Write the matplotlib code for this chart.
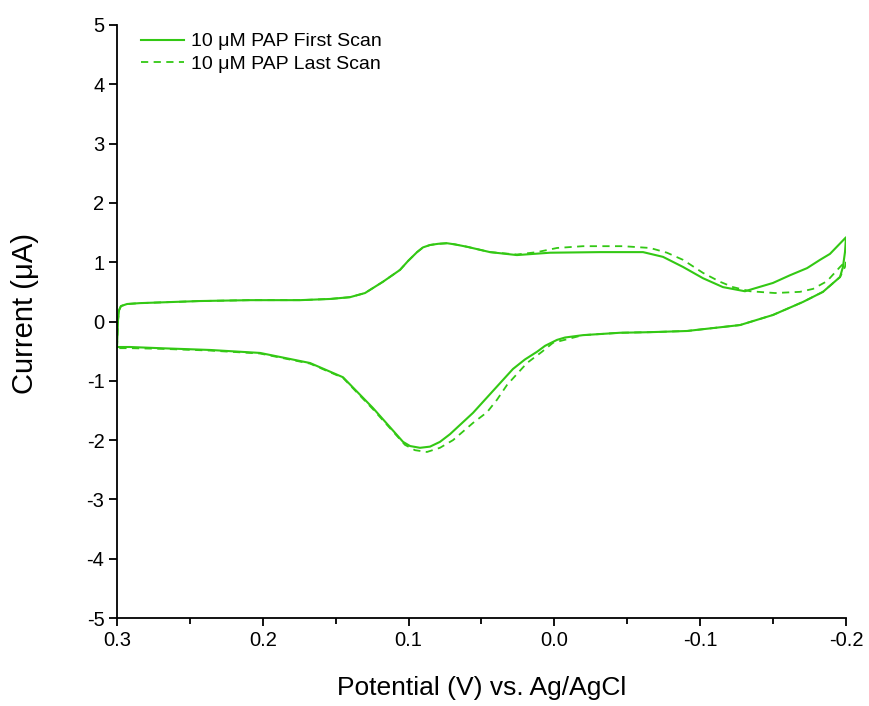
import matplotlib
matplotlib.use("Agg")
import matplotlib.pyplot as plt
from matplotlib.ticker import MultipleLocator, FormatStrFormatter

plt.rcParams['font.family'] = ['Liberation Sans', 'DejaVu Sans']
plt.rcParams['axes.unicode_minus'] = False

# First scan: upper (oxidation) branch from 0.3 V to -0.2 V, then lower branch back
first_x = [0.300, 0.2993, 0.2986, 0.2973, 0.2931, 0.2842, 0.2431, 0.2088, 0.1745, 0.1539,
           0.1402, 0.1299, 0.1176, 0.1059, 0.1004, 0.0942, 0.0901, 0.0853, 0.0798, 0.0737,
           0.0682, 0.0599, 0.0442, 0.0257,
           0.0030, -0.0313, -0.0608, -0.0745, -0.0882, -0.1019, -0.1156, -0.1307, -0.1499,
           -0.1616, -0.1733, -0.1822, -0.1890, -0.2000,
           -0.1993, -0.1979, -0.1959, -0.1842, -0.1705, -0.1499, -0.1273, -0.0909, -0.0656,
           -0.0450, -0.0196, -0.0073, -0.0018, 0.0064, 0.0119, 0.0202, 0.0284, 0.0373, 0.0558,
           0.0716, 0.0785, 0.0853, 0.0922, 0.0990, 0.1038,
           0.1244, 0.1450, 0.1676, 0.2019, 0.2362, 0.2705, 0.2911, 0.300]
first_y = [-0.43, 0.025, 0.19, 0.26, 0.295, 0.31, 0.345, 0.36, 0.36, 0.38,
           0.41, 0.48, 0.67, 0.87, 1.02, 1.17, 1.25, 1.29, 1.31, 1.32,
           1.30, 1.26, 1.17, 1.12,
           1.16, 1.17, 1.17, 1.09, 0.92, 0.73, 0.58, 0.51, 0.65,
           0.78, 0.90, 1.04, 1.14, 1.42,
           1.17, 0.92, 0.75, 0.50, 0.33, 0.11, -0.06, -0.16, -0.18,
           -0.19, -0.23, -0.27, -0.31, -0.41, -0.51, -0.64, -0.80, -1.04, -1.54,
           -1.90, -2.03, -2.11, -2.13, -2.10, -2.03,
           -1.46, -0.94, -0.70, -0.53, -0.48, -0.45, -0.43, -0.43]

# Last scan
last_x = [0.300, 0.2993, 0.2986, 0.2973, 0.2931, 0.2842, 0.2431, 0.2088, 0.1745, 0.1539,
          0.1402, 0.1299, 0.1176, 0.1059, 0.1004, 0.0942, 0.0901, 0.0853, 0.0798, 0.0737,
          0.0682, 0.0599, 0.0442, 0.0257,
          0.0119, -0.0018, -0.0196, -0.0471, -0.0656, -0.0772, -0.0882, -0.1019, -0.1136,
          -0.1225, -0.1342, -0.1513, -0.1684, -0.1774, -0.1870, -0.1959, -0.2000,
          -0.1993, -0.1959, -0.1842, -0.1705, -0.1499, -0.1273, -0.0909, -0.0656,
          -0.0450, -0.0196, 0.0010, 0.0085, 0.0188, 0.0325, 0.0394, 0.0462, 0.0558, 0.0695,
          0.0785, 0.0874, 0.0956, 0.1025, 0.1244, 0.1450, 0.1676, 0.2019, 0.2362, 0.2705,
          0.2911, 0.300]
last_y = [-0.45, 0.025, 0.19, 0.26, 0.295, 0.31, 0.345, 0.36, 0.36, 0.38,
          0.41, 0.48, 0.67, 0.87, 1.02, 1.17, 1.25, 1.29, 1.31, 1.32,
          1.30, 1.26, 1.17, 1.13,
          1.17, 1.24, 1.27, 1.27, 1.24, 1.16, 1.04, 0.82, 0.67,
          0.58, 0.51, 0.48, 0.50, 0.55, 0.68, 0.92, 1.02,
          0.92, 0.75, 0.50, 0.33, 0.11, -0.06, -0.16, -0.18,
          -0.19, -0.23, -0.36, -0.51, -0.70, -1.07, -1.32, -1.53, -1.71, -2.00,
          -2.13, -2.20, -2.17, -2.08, -1.48, -0.95, -0.71, -0.54, -0.49, -0.46,
          -0.45, -0.45]

labels = ["10 \u03bcM PAP First Scan", "10 \u03bcM PAP Last Scan"]
xticks = [0.3, 0.2, 0.1, 0.0, -0.1, -0.2]
yticks = [-5, -4, -3, -2, -1, 0, 1, 2, 3, 4, 5]

color = '#33c814'
W, H = 870, 706

fig = plt.figure(figsize=(8.7, 7.06), dpi=100)
ax = fig.add_axes([117 / W, 1 - 618 / H, (846 - 117) / W, (618 - 25) / H])
ax.plot(first_x, first_y, color=color, lw=1.5, label=labels[0])
ax.plot(last_x, last_y, color=color, lw=1.3, ls=(0, (4, 3)), label=labels[1])

ax.set_xlim(0.3, -0.2)
ax.set_ylim(-5, 5)
ax.set_xticks(xticks)
ax.set_yticks(yticks)
ax.xaxis.set_major_formatter(FormatStrFormatter('%.1f'))
ax.xaxis.set_minor_locator(MultipleLocator(0.05))
ax.spines['top'].set_visible(False)
ax.spines['right'].set_visible(False)
for s in ['left', 'bottom']:
    ax.spines[s].set_linewidth(1.3)
ax.tick_params(axis='both', which='major', direction='out', length=6, width=1.3,
               labelsize=14.5, pad=3)
ax.tick_params(axis='x', which='minor', direction='out', length=4, width=1.3)

fig.text(482 / W, 1 - 688 / H, "Potential (V) vs. Ag/AgCl", fontsize=19,
         ha='center', va='center')
fig.text(25 / W, 1 - 313 / H, "Current (\u03bcA)", fontsize=21, rotation=90,
         ha='center', va='center')

ax.legend(loc='upper left', frameon=False, fontsize=14, handlelength=2.2,
          handletextpad=0.4, borderaxespad=0.0, labelspacing=0.25,
          bbox_to_anchor=(0.022, 1.0))

fig.savefig("out.png", dpi=100)
